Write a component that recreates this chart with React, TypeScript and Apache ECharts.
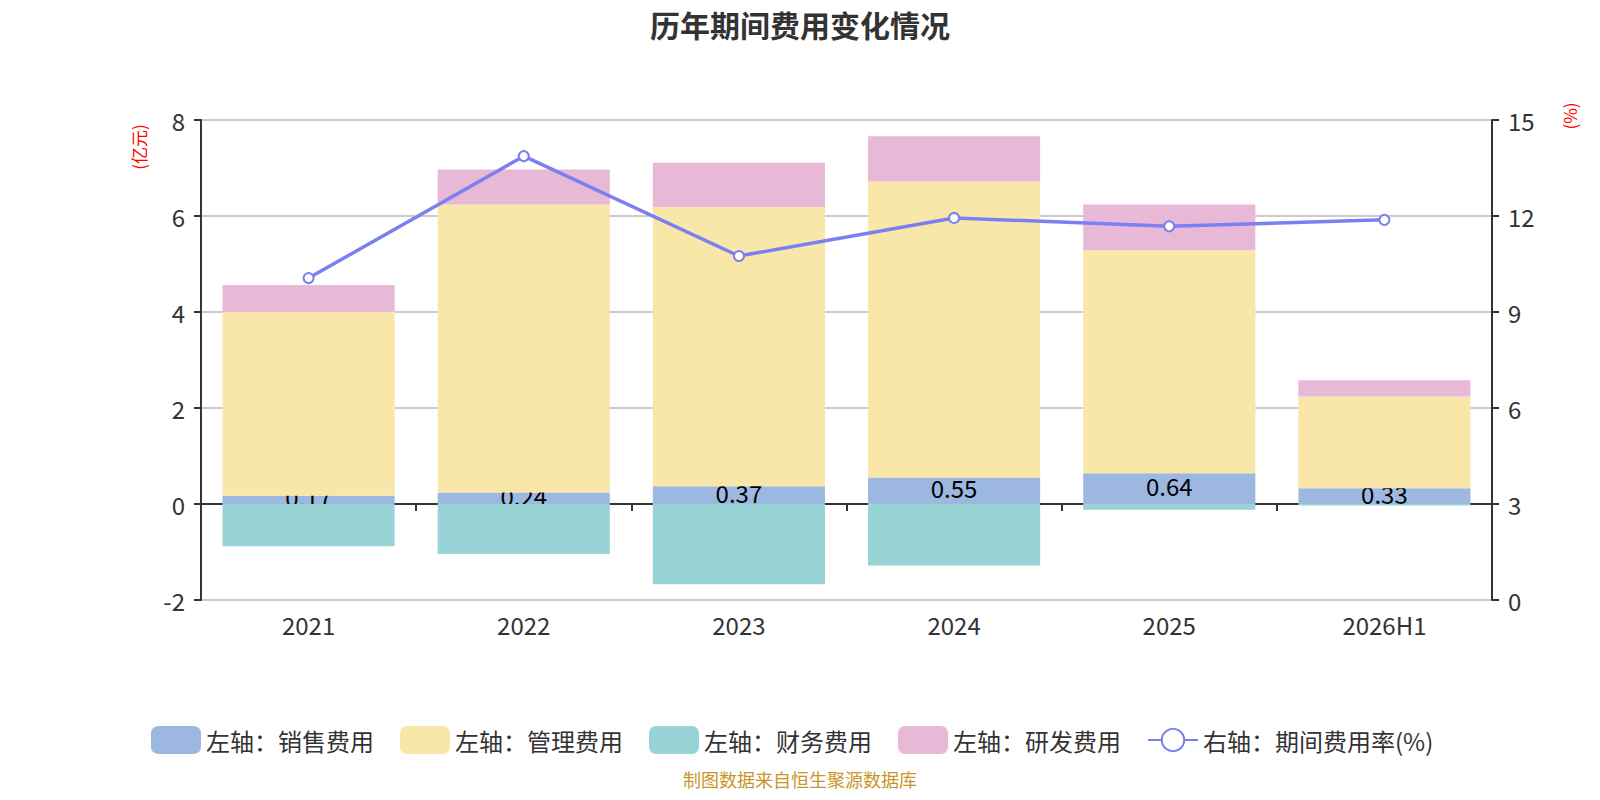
import React, { useEffect, useRef } from "react";
import * as echarts from "echarts";

const categories = ["2021", "2022", "2023", "2024", "2025", "2026H1"];
const salesExpense = [0.17, 0.24, 0.37, 0.55, 0.64, 0.33];
const adminExpense = [3.83, 6.0, 5.82, 6.17, 4.65, 1.91];
const financeExpense = [-0.88, -1.04, -1.67, -1.28, -0.12, -0.03];
const rdExpense = [0.56, 0.73, 0.92, 0.94, 0.95, 0.34];
const expenseRate = [10.06, 13.87, 10.75, 11.94, 11.68, 11.88];

const FONT = "'Noto Sans CJK SC', 'Noto Sans', sans-serif";

export default function App() {
  const ref = useRef<HTMLDivElement>(null);
  useEffect(() => {
    if (!ref.current) return;
    const chart = echarts.init(ref.current, null, { renderer: "svg" });
    const barBase = {
      type: "bar",
      stack: "total",
      barWidth: "80%",
      yAxisIndex: 0,
    };
    const axisCommon = {
      axisLine: { show: true, lineStyle: { color: "#333", width: 2 } },
      axisTick: { show: true, length: 7, lineStyle: { color: "#333", width: 2 } },
      axisLabel: { fontSize: 24, color: "#333", margin: 16, fontFamily: FONT },
    };
    chart.setOption({
      animation: false,
      textStyle: { fontFamily: FONT },
      title: {
        text: "历年期间费用变化情况",
        left: "center",
        top: 1,
        padding: 0,
        textStyle: { fontSize: 30, lineHeight: 30, fontWeight: "bold", color: "#333", fontFamily: FONT },
      },
      grid: { left: 193, right: 100, top: 112, bottom: 192 },
      legend: {
        top: 713,
        left: 138,
        itemWidth: 50,
        itemHeight: 28,
        itemGap: 26,
        textStyle: { fontSize: 24, color: "#333", fontFamily: FONT },
        data: [
          { name: "左轴：销售费用", icon: "roundRect" },
          { name: "左轴：管理费用", icon: "roundRect" },
          { name: "左轴：财务费用", icon: "roundRect" },
          { name: "左轴：研发费用", icon: "roundRect" },
          { name: "右轴：期间费用率(%)" },
        ],
      },
      xAxis: {
        type: "category",
        data: categories,
        axisLine: { onZero: true, lineStyle: { color: "#333", width: 2 } },
        axisTick: { show: true, length: 7, lineStyle: { color: "#333", width: 2 } },
        axisLabel: { fontSize: 24, color: "#333", margin: 12, fontFamily: FONT },
      },
      yAxis: [
        {
          type: "value",
          min: -2,
          max: 8,
          interval: 2,
          position: "left",
          ...axisCommon,
          splitLine: { show: true, lineStyle: { color: "#ccc", width: 2 } },
        },
        {
          type: "value",
          min: 0,
          max: 15,
          interval: 3,
          position: "right",
          ...axisCommon,
          splitLine: { show: false },
        },
      ],
      graphic: [
        {
          type: "text",
          x: 130,
          y: 139,
          rotation: Math.PI / 2,
          style: {
            text: "(亿元)",
            fill: "#ff0000",
            fontSize: 17,
            fontFamily: FONT,
            align: "center",
            verticalAlign: "middle",
          },
        },
        {
          type: "text",
          x: 1561,
          y: 108,
          rotation: Math.PI / 2,
          style: {
            text: "(%)",
            fill: "#ff0000",
            fontSize: 17,
            fontFamily: FONT,
            align: "center",
            verticalAlign: "middle",
          },
        },
        {
          type: "text",
          left: "center",
          top: 762,
          style: {
            text: "制图数据来自恒生聚源数据库",
            fill: "#c9952b",
            fontSize: 18,
            fontFamily: FONT,
          },
        },
      ],
      series: [
        {
          ...barBase,
          name: "左轴：销售费用",
          data: salesExpense,
          z: 2,
          itemStyle: { color: "#9db8e0" },
          label: {
            show: true,
            position: "inside",
            color: "#000",
            fontSize: 24,
            fontFamily: FONT,
            offset: [0, -3],
          },
        },
        {
          ...barBase,
          name: "左轴：管理费用",
          data: adminExpense,
          z: 3,
          itemStyle: { color: "#f8e7a9" },
        },
        {
          ...barBase,
          name: "左轴：财务费用",
          data: financeExpense,
          z: 3,
          itemStyle: { color: "#98d4d5" },
        },
        {
          ...barBase,
          name: "左轴：研发费用",
          data: rdExpense,
          z: 3,
          itemStyle: { color: "#e7b9d7" },
        },
        {
          type: "line",
          name: "右轴：期间费用率(%)",
          yAxisIndex: 1,
          data: expenseRate,
          z: 5,
          symbol: "circle",
          symbolSize: 10,
          lineStyle: { color: "#7b7ff0", width: 3.5 },
          itemStyle: { color: "#fff", borderColor: "#7b7ff0", borderWidth: 2 },
        },
      ],
    });
    return () => chart.dispose();
  }, []);
  return <div ref={ref} style={{ width: 1584, height: 784 }} />;
}
